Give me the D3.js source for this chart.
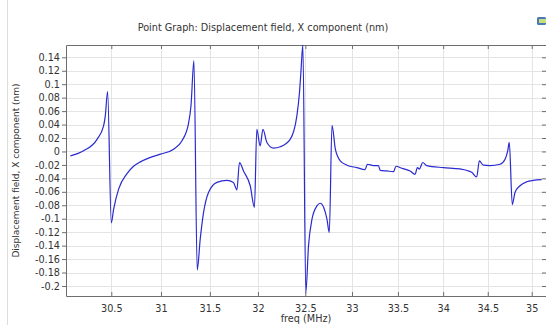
<!DOCTYPE html>
<html>
<head>
<meta charset="utf-8">
<script src="https://cdn.jsdelivr.net/npm/d3@7/dist/d3.min.js"></script>
<style>
  html, body { margin: 0; padding: 0; background: #fff; }
  svg { display: block; font-family: "DejaVu Sans", sans-serif; }
</style>
</head>
<body>
<svg id="chart" width="546" height="325"></svg>
<script>
// Frequency sweep (MHz) and the X displacement at the probe point (nm)
const freq = [
  30.094, 30.225, 30.358, 30.423, 30.440, 30.463, 30.500, 30.523, 30.573, 30.657,
  30.723, 30.791, 30.880, 30.993, 31.128, 31.214, 31.280, 31.306, 31.336, 31.370, 31.401,
  31.435, 31.486, 31.573, 31.676, 31.744, 31.780, 31.807, 31.849, 31.919, 31.963,
  31.988, 32.023, 32.052, 32.094, 32.163, 32.234, 32.339, 32.410, 32.438, 32.453,
  32.474, 32.505, 32.534, 32.571, 32.624, 32.659, 32.695, 32.731, 32.756, 32.785,
  32.821, 32.874, 32.946, 33.052, 33.142, 33.167, 33.233, 33.287, 33.306, 33.379,
  33.451, 33.480, 33.543, 33.634, 33.689, 33.714, 33.736, 33.774, 33.818, 34.001,
  34.188, 34.319, 34.375, 34.405, 34.450, 34.525, 34.639, 34.696, 34.726, 34.744,
  34.778, 34.809, 34.866, 34.943, 35.018, 35.114
];
const dispX = [
  -0.0065, 0.001, 0.018, 0.038, 0.053, 0.089, -0.106, -0.086, -0.056, -0.033,
  -0.022, -0.0155, -0.0095, -0.004, 0.0034, 0.016, 0.041, 0.068, 0.135, -0.176, -0.130,
  -0.091, -0.061, -0.046, -0.043, -0.046, -0.057, -0.0164, -0.029, -0.051, -0.083,
  0.033, 0.0083, 0.033, 0.0134, 0.005, 0.007, 0.018, 0.053, 0.088, 0.118,
  0.158, -0.210, -0.140, -0.1007, -0.081, -0.077, -0.083, -0.1007, -0.1205, 0.039,
  0.0034, -0.014, -0.0204, -0.024, -0.027, -0.019, -0.021, -0.021, -0.028, -0.029,
  -0.030, -0.022, -0.025, -0.029, -0.034, -0.024, -0.026, -0.0164, -0.021, -0.024,
  -0.026, -0.031, -0.038, -0.014, -0.0204, -0.021, -0.019, -0.0115, 0.001, 0.0134,
  -0.079, -0.061, -0.051, -0.045, -0.043, -0.042
];

const xTicks = [30.5, 31, 31.5, 32, 32.5, 33, 33.5, 34, 34.5, 35];
const yTicks = [-0.2, -0.18, -0.16, -0.14, -0.12, -0.1, -0.08, -0.06, -0.04, -0.02,
                0, 0.02, 0.04, 0.06, 0.08, 0.1, 0.12, 0.14];

const titleText = "Point Graph: Displacement field, X component (nm)";
const xLabel = "freq (MHz)";
const yLabel = "Displacement field, X component (nm)";

const W = 546, H = 325;
const plot = { left: 66, right: 546, top: 45, bottom: 296 };

const svg = d3.select("#chart");

// Frequency axis is drawn on a logarithmic scale
const x = d3.scaleLog().domain([30.051, 35.164]).range([plot.left, plot.right]);
const y = d3.scaleLinear().domain([-0.2149, 0.1583]).range([plot.bottom, plot.top]);

const fmt = d => (d === 0 ? "0" : String(+d.toFixed(2)));

// panel border on the far left
svg.append("line")
  .attr("x1", 7.5).attr("x2", 7.5).attr("y1", 0).attr("y2", H)
  .attr("stroke", "#dcdcdc").attr("stroke-width", 1);

// small toolbar icon, top right
const icon = svg.append("g").attr("transform", "translate(537,17)");
icon.append("rect").attr("width", 9).attr("height", 8).attr("rx", 1.5)
  .attr("fill", "#4a78b8");
icon.append("rect").attr("x", 2).attr("y", 2).attr("width", 7).attr("height", 4)
  .attr("fill", "#c8e07a");

// title
svg.append("text")
  .attr("x", 263).attr("y", 31)
  .attr("text-anchor", "middle")
  .attr("font-size", 9.7).attr("fill", "#333")
  .text(titleText);

// grid
const grid = svg.append("g");
grid.selectAll(".gx").data(xTicks).join("line")
  .attr("x1", d => Math.round(x(d)) + 0.5).attr("x2", d => Math.round(x(d)) + 0.5)
  .attr("y1", plot.top).attr("y2", plot.bottom)
  .attr("stroke", "#e4e4e4").attr("stroke-width", 1);
grid.selectAll(".gy").data(yTicks).join("line")
  .attr("x1", plot.left).attr("x2", plot.right)
  .attr("y1", d => Math.round(y(d)) + 0.5).attr("y2", d => Math.round(y(d)) + 0.5)
  .attr("stroke", "#e4e4e4").attr("stroke-width", 1);

// axes
const axisColor = "#6e6e6e";
const xAxisB = svg.append("g")
  .attr("transform", `translate(0,${plot.bottom})`)
  .call(d3.axisBottom(x).tickValues(xTicks).tickFormat(fmt).tickSizeInner(-4).tickSizeOuter(0).tickPadding(9));
const xAxisT = svg.append("g")
  .attr("transform", `translate(0,${plot.top})`)
  .call(d3.axisTop(x).tickValues(xTicks).tickFormat("").tickSizeInner(-4).tickSizeOuter(0));
const yAxisL = svg.append("g")
  .attr("transform", `translate(${plot.left},0)`)
  .call(d3.axisLeft(y).tickValues(yTicks).tickFormat(fmt).tickSizeInner(4).tickSizeOuter(0).tickPadding(2));
const yAxisR = svg.append("g")
  .attr("transform", `translate(${plot.right},0)`)
  .call(d3.axisRight(y).tickValues(yTicks).tickFormat("").tickSizeInner(-4).tickSizeOuter(0));

[xAxisB, xAxisT, yAxisL, yAxisR].forEach(g => {
  g.select(".domain").attr("stroke", axisColor);
  g.selectAll(".tick line").attr("stroke", axisColor);
  g.selectAll(".tick text").attr("fill", "#333").attr("font-size", 9.7)
    .attr("font-family", "DejaVu Sans, sans-serif");
});

// axis titles
svg.append("text")
  .attr("x", 306).attr("y", 322)
  .attr("text-anchor", "middle")
  .attr("font-size", 9.7).attr("fill", "#333")
  .text(xLabel);
svg.append("text")
  .attr("transform", `translate(19,${(plot.top + plot.bottom) / 2}) rotate(-90)`)
  .attr("text-anchor", "middle")
  .attr("font-size", 9).attr("fill", "#333")
  .text(yLabel);

// response curve
svg.append("clipPath").attr("id", "clip")
  .append("rect")
  .attr("x", plot.left).attr("y", plot.top - 1)
  .attr("width", plot.right - plot.left).attr("height", plot.bottom - plot.top + 2);

const pts = freq.map((f, i) => [f, dispX[i]]);
const line = d3.line()
  .x(d => x(d[0]))
  .y(d => y(d[1]))
  .curve(d3.curveMonotoneX);

svg.append("path")
  .datum(pts)
  .attr("clip-path", "url(#clip)")
  .attr("fill", "none")
  .attr("stroke", "#2a2ad0")
  .attr("stroke-width", 1.2)
  .attr("d", line);
</script>
</body>
</html>
